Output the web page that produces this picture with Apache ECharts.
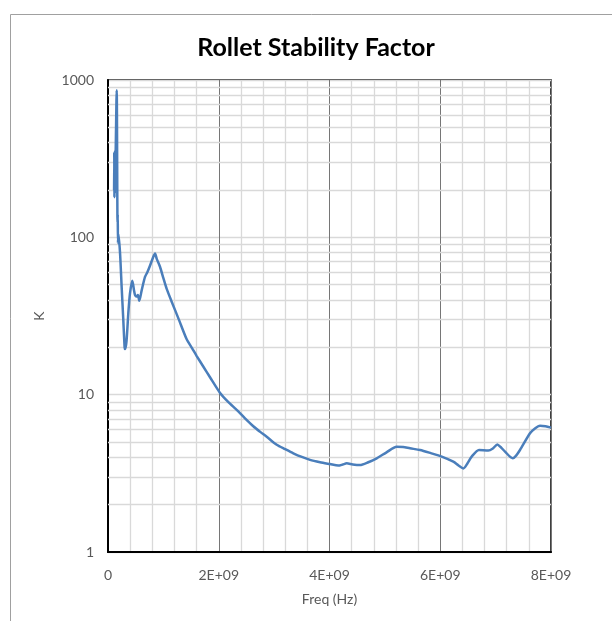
<!DOCTYPE html>
<html>
<head>
<meta charset="utf-8">
<script src="https://cdn.jsdelivr.net/npm/echarts@6/dist/echarts.min.js"></script>
<style>
html,body{margin:0;padding:0;background:#fff;}
#c{width:612px;height:621px;}
</style>
</head>
<body>
<div id="c"></div>
<script>
const chartTitle = 'Rollet Stability Factor';
const xName = 'Freq (Hz)';
const yName = 'K';
const xTicks = [0, 2e9, 4e9, 6e9, 8e9];
const yTicks = [1, 10, 100, 1000];
const minorY = [2,3,4,5,6,7,8,9,20,30,40,50,60,70,80,90,200,300,400,500,600,700,800,900];

const freq = [
  1.10e8,1.13e8,1.16e8,1.19e8,1.22e8,1.25e8,1.30e8,1.57e8,1.72e8,1.76e8,1.80e8,1.88e8,
  2.17e8,2.47e8,2.76e8,3.00e8,3.10e8,3.35e8,3.67e8,3.97e8,4.39e8,4.70e8,4.88e8,5.15e8,
  5.40e8,5.65e8,6.08e8,6.68e8,7.10e8,7.58e8,8.10e8,8.49e8,8.80e8,9.39e8,1.00e9,1.06e9,
  1.15e9,1.28e9,1.421e9,1.52e9,1.602e9,1.72e9,1.842e9,2.02e9,2.17e9,2.324e9,2.47e9,2.624e9,
  2.75e9,2.866e9,3.047e9,3.20e9,3.347e9,3.50e9,3.648e9,3.83e9,4.009e9,4.159e9,4.24e9,4.311e9,
  4.42e9,4.551e9,4.70e9,4.853e9,5.03e9,5.214e9,5.33e9,5.454e9,5.635e9,5.83e9,6.027e9,6.236e9,
  6.33e9,6.417e9,6.49e9,6.568e9,6.70e9,6.868e9,6.95e9,7.031e9,7.09e9,7.17e9,7.309e9,7.37e9,
  7.44e9,7.621e9,7.71e9,7.802e9,7.90e9,8.00e9
];
const kValues = [
  200,350,180,345,190,330,260,860,125,140,92,105,
  80,48,30,20,19.5,22,33,44,53,46,43,42,
  43,39.5,46,56,60,66,74,79,73,65,55,47,
  39,30,22.5,19.7,17.6,15.1,12.9,10.3,9.0,8.0,7.1,6.3,
  5.8,5.4,4.8,4.5,4.24,4.02,3.85,3.72,3.62,3.54,3.60,3.66,
  3.60,3.57,3.72,3.94,4.30,4.67,4.65,4.56,4.45,4.25,4.04,3.75,
  3.55,3.40,3.65,4.04,4.45,4.41,4.55,4.83,4.65,4.34,3.94,4.10,
  4.45,5.68,6.10,6.35,6.30,6.17
];

const seriesData = freq.map((f, i) => [f, kValues[i]]);
const labelColor = '#595959';
const fontFamily = 'Lato, "Open Sans", sans-serif';

const chart = echarts.init(document.getElementById('c'), null, {renderer: 'canvas'});
chart.setOption({
  animation: false,
  backgroundColor: '#fff',
  title: {
    text: chartTitle,
    left: 311,
    top: 30,
    textAlign: 'center',
    textStyle: {fontFamily: fontFamily, fontWeight: 'bold', fontSize: 25, color: '#000'}
  },
  graphic: [{
    type: 'rect',
    shape: {x: 10.5, y: 14.5, width: 800, height: 800},
    style: {fill: 'none', stroke: '#a0a0a0', lineWidth: 1},
    silent: true,
    z: -1
  }],
  grid: {
    left: 108, right: 61, top: 80, bottom: 69,
    show: true, borderColor: '#000', borderWidth: 1.5, backgroundColor: 'transparent'
  },
  xAxis: {
    type: 'value',
    min: xTicks[0], max: xTicks[xTicks.length - 1], interval: xTicks[1] - xTicks[0],
    name: xName, nameLocation: 'middle', nameGap: 40,
    nameTextStyle: {fontFamily: fontFamily, fontSize: 14, color: labelColor},
    axisLine: {show: true, onZero: false, lineStyle: {color: '#000', width: 2}},
    axisTick: {show: false},
    axisLabel: {
      margin: 16, fontFamily: fontFamily, fontSize: 14, color: labelColor,
      formatter: v => v === 0 ? '0' : (v / 1e9) + 'E+09'
    },
    splitLine: {show: true, lineStyle: {color: '#767676', width: 1}},
    minorTick: {show: false, splitNumber: 5},
    minorSplitLine: {show: true, lineStyle: {color: '#d9d9d9', width: 1.3}}
  },
  yAxis: {
    type: 'log', logBase: 10,
    min: yTicks[0], max: yTicks[yTicks.length - 1],
    name: yName, nameLocation: 'middle', nameGap: 62, nameRotate: 90,
    nameTextStyle: {fontFamily: fontFamily, fontSize: 14, color: labelColor},
    axisLine: {show: true, lineStyle: {color: '#000', width: 2}},
    axisTick: {show: false},
    axisLabel: {margin: 14, fontFamily: fontFamily, fontSize: 14, color: labelColor,
      formatter: v => String(Math.round(v))},
    splitLine: {show: true, lineStyle: {color: '#d9d9d9', width: 1.3}}
  },
  series: [{
    type: 'line',
    data: seriesData,
    showSymbol: false,
    smooth: 0.25,
    lineStyle: {color: '#4a7ebb', width: 2.5},
    itemStyle: {color: '#4a7ebb'},
    z: 5,
    markLine: {
      silent: true,
      symbol: 'none',
      label: {show: false},
      lineStyle: {color: '#d9d9d9', width: 1.3, type: 'solid'},
      data: minorY.map(v => ({yAxis: v})),
      z: 1
    }
  }]
});
</script>
</body>
</html>
